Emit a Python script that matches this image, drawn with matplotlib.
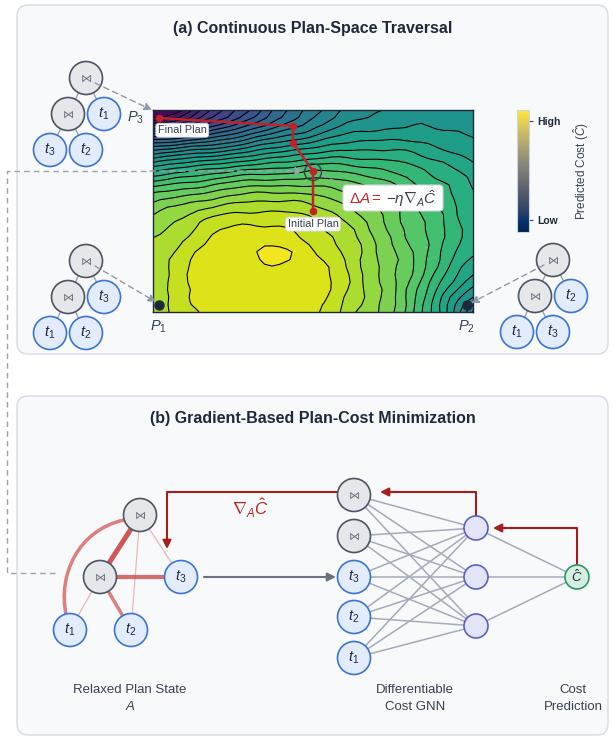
import numpy as np
import matplotlib
matplotlib.use("Agg")
import matplotlib.pyplot as plt
from matplotlib.patches import FancyBboxPatch, Circle, PathPatch
from matplotlib.path import Path
from matplotlib.cm import ScalarMappable
from matplotlib.colors import Normalize

plt.rcParams['font.family'] = ['Liberation Sans', 'DejaVu Sans']
plt.rcParams['mathtext.fontset'] = 'custom'
plt.rcParams['mathtext.rm'] = 'Liberation Sans'
plt.rcParams['mathtext.it'] = 'Liberation Sans:italic'
plt.rcParams['mathtext.bf'] = 'Liberation Sans:bold'
plt.rcParams['mathtext.fallback'] = 'cm'

# ---------------------------------------------------------------- data
# candidate join trees: inner join (left, right) and the outer leaf
plan_names = ["P_3", "P_1", "P_2"]
plan_inner = [("t_3", "t_2"), ("t_1", "t_2"), ("t_1", "t_3")]
plan_outer = ["t_1", "t_3", "t_2"]
# where the discrete plans sit on the cost surface (axes units)
plan_pts_x = [0.02, 0.02, 0.98]
plan_pts_y = [0.96, 0.035, 0.035]

# gradient-descent trajectory, initial -> final (axes units)
traj_x = [0.50, 0.50, 0.4375, 0.4375, 0.02]
traj_y = [0.50, 0.698, 0.837, 0.921, 0.96]

# predicted-cost surface parameters
mesa_center = (0.33, 0.15)
mesa_scale = (0.22, 0.29)
mesa_top, mesa_radius, mesa_slope, mesa_sat = 0.949, 0.83, 0.119, 2.5
bump_center = (0.375, 0.28)
bump_width = (0.06, 0.05)
bump_height = 0.03
tl_depth, tl_scale, tl_power = 0.80, (1.5, 0.60), 2.2
edge_depth, edge_start = 0.11, 0.55
br_depth, br_scale = 0.20, (0.30, 0.40)
ripple = (0.006, 0.004)
n_levels = 29

cbar_ticks = [0.91, 0.10]
cbar_ticklabels = ["High", "Low"]

# relaxed plan state: soft adjacency between nodes
relax_edges = [("J1", "J2"), ("J2", "T3"), ("J2", "T2"), ("J1", "T1"),
               ("J1", "T3"), ("J1", "T2"), ("J2", "T1")]
relax_weights = [0.95, 0.75, 0.60, 0.60, 0.10, 0.10, 0.10]

gnn_inputs = ["join", "join", "t_3", "t_2", "t_1"]
gnn_hidden = 3

# ---------------------------------------------------------------- style
C_JOIN_FC, C_JOIN_EC = "#e5e7eb", "#4b5563"
C_TAB_FC, C_TAB_EC = "#e3ecfd", "#3b74d8"
C_HID_FC, C_HID_EC = "#e4e4fb", "#5b5fc7"
C_OUT_FC, C_OUT_EC = "#d5f0e2", "#2e9467"
C_TEXT = "#1f2937"
C_GRAY = "#8d98aa"
C_RED = "#a51d1d"
C_RELAX = "#d04848"

W, H = 613, 738
fig = plt.figure(figsize=(W / 100, H / 100), dpi=100)
fig.patch.set_facecolor("white")

ax = fig.add_axes([0, 0, 1, 1])
ax.set_xlim(0, W)
ax.set_ylim(H, 0)
ax.axis("off")

ov = fig.add_axes([0, 0, 1, 1], zorder=5)
ov.set_xlim(0, W)
ov.set_ylim(H, 0)
ov.axis("off")
ov.patch.set_alpha(0)

# panels
for y0, h in [(5, 349), (396, 339)]:
    ax.add_patch(FancyBboxPatch((17, y0), 591, h,
                                boxstyle="round,pad=0,rounding_size=11",
                                fc="#f8f9fb", ec="#d7dbe2", lw=1.0, zorder=0))
ax.text(313, 28, "(a) Continuous Plan-Space Traversal", ha="center", va="center",
        fontsize=11.5, fontweight="bold", color="#1e293b")
ax.text(313, 418, "(b) Gradient-Based Plan-Cost Minimization", ha="center", va="center",
        fontsize=11.5, fontweight="bold", color="#1e293b")


def node(a, x, y, r, kind, label=None, z=3):
    if kind == "join":
        fc, ec = C_JOIN_FC, C_JOIN_EC
    elif kind == "tab":
        fc, ec = C_TAB_FC, C_TAB_EC
    elif kind == "hid":
        fc, ec = C_HID_FC, C_HID_EC
    else:
        fc, ec = C_OUT_FC, C_OUT_EC
    a.add_patch(Circle((x, y), r, fc=fc, ec=ec, lw=1.2, zorder=z))
    if kind == "join":
        a.text(x, y + 0.5, "\u22c8", ha="center", va="center", fontsize=8,
               color="#6b7280", family="DejaVu Sans", zorder=z + 1)
    elif label is not None:
        a.text(x, y, f"${label}$", ha="center", va="center", fontsize=10.5,
               color=C_TEXT, zorder=z + 1)


def arrow(a, p0, p1, color, lw=1.0, ls="-", hw=0.22, hl=0.45, z=4):
    a.annotate("", xy=p1, xytext=p0, zorder=z,
               arrowprops=dict(arrowstyle=f"-|>,head_length={hl},head_width={hw}",
                               color=color, lw=lw, linestyle=ls,
                               shrinkA=0, shrinkB=0))


# ---------------------------------------------------------------- trees (a)
tree_roots = [(86, 78), (86, 261), (553, 260)]
tree_targets = [(152, 110), (156, 302), (471, 303)]
R = 16.5
for (rx, ry), inner, outer, tgt in zip(tree_roots, plan_inner, plan_outer, tree_targets):
    jx, jy = rx - 18, ry + 36
    ox, oy = rx + 18, ry + 36
    l1 = (rx - 36, ry + 72)
    l2 = (rx, ry + 72)
    for (x0, y0), (x1, y1) in [((rx, ry), (jx, jy)), ((rx, ry), (ox, oy)),
                               ((jx, jy), l1), ((jx, jy), l2)]:
        ax.plot([x0, x1], [y0, y1], color="#9aa3b0", lw=1.0, zorder=1)
    node(ax, rx, ry, R, "join")
    node(ax, jx, jy, R, "join")
    node(ax, ox, oy, R, "tab", outer)
    node(ax, *l1, R, "tab", inner[0])
    node(ax, *l2, R, "tab", inner[1])
    sx = rx + 9 if tgt[0] > rx else rx - 9
    arrow(ov, (sx, ry + 5), tgt, C_GRAY, lw=1.0, ls=(0, (4, 3)))

# plan labels
ov.text(136, 118, "$P_3$", ha="center", va="center", fontsize=10.5, color="#334155")
ov.text(158, 327, "$P_1$", ha="center", va="center", fontsize=10.5, color="#334155")
ov.text(466, 327, "$P_2$", ha="center", va="center", fontsize=10.5, color="#334155")

# ---------------------------------------------------------------- cost surface
cax = fig.add_axes([153 / W, 1 - 312 / H, 320 / W, 202 / H], zorder=3)
gx = np.linspace(0, 1, 44)
gy = np.linspace(0, 1, 28)
X, Y = np.meshgrid(gx, gy)

# plateau-topped cone around the high-cost region
r = np.sqrt(((X - mesa_center[0]) / mesa_scale[0]) ** 2 +
            ((Y - mesa_center[1]) / mesa_scale[1]) ** 2)
u = 0.05 * np.log1p(np.exp((r - mesa_radius) / 0.05))
Z = mesa_top - mesa_slope * mesa_sat * np.tanh(u / mesa_sat)
b2 = ((X - bump_center[0]) / bump_width[0]) ** 2 + ((Y - bump_center[1]) / bump_width[1]) ** 2
Z += bump_height * np.exp(-b2)
# cheap corner (top-left), falling edge on the right, bottom-right pocket
d_tl = np.sqrt((X / tl_scale[0]) ** 2 + ((1 - Y) / tl_scale[1]) ** 2)
Z -= tl_depth * np.clip(1 - d_tl, 0, None) ** tl_power
Z -= edge_depth * np.clip((X - edge_start) / (1 - edge_start), 0, None) ** 1.5
d_br = np.sqrt(((1 - X) / br_scale[0]) ** 2 + (Y / br_scale[1]) ** 2)
Z -= br_depth * np.clip(1 - d_br, 0, None) ** 2
# small irregularities of a learned model
Z += ripple[0] * np.sin(23 * X + 7 * Y) * np.cos(17 * Y - 5 * X)
Z += ripple[1] * np.sin(47 * X - 13 * Y) * np.cos(37 * Y + 11 * X)
Z = np.clip(Z, 0.001, 0.999)

levels = np.linspace(0, 1, n_levels)
cax.contourf(X, Y, Z, levels=levels, cmap="viridis", vmin=0, vmax=1)
cax.contour(X, Y, Z, levels=levels, colors="black", linewidths=0.8)
cax.set_xlim(0, 1)
cax.set_ylim(0, 1)
cax.set_xticks([])
cax.set_yticks([])
for s in cax.spines.values():
    s.set_color("#1f2937")
    s.set_linewidth(1.0)

cax.plot(traj_x, traj_y, color="#c0212a", lw=1.8, zorder=5,
         marker="o", ms=4.5, mfc="#c0212a", mec="#c0212a")
cax.plot(plan_pts_x[1:], plan_pts_y[1:], "o", color="#1e293b", ms=6.5, zorder=6)
box = dict(boxstyle="round,pad=0.18,rounding_size=0.25", fc="white", ec="#d1d5db", lw=0.6)
cax.text(0.015, 0.90, "Final Plan", ha="left", va="center", fontsize=7.8,
         color="#374151", bbox=box, zorder=7)
cax.text(0.5, 0.435, "Initial Plan", ha="center", va="center", fontsize=7.8,
         color="#374151", bbox=box, zorder=7)

# ---------------------------------------------------------------- colorbar
cb_ax = fig.add_axes([517 / W, 1 - 232 / H, 12 / W, 122 / H], zorder=3)
cb = fig.colorbar(ScalarMappable(norm=Normalize(0, 1), cmap="cividis"), cax=cb_ax)
cb.set_ticks(cbar_ticks)
cb.set_ticklabels(cbar_ticklabels)
cb.outline.set_edgecolor("#cbd5e1")
cb.outline.set_linewidth(0.8)
cb_ax.tick_params(length=3, width=0.8, color="#374151", labelsize=7.5, pad=3)
for t in cb_ax.get_yticklabels():
    t.set_fontweight("bold")
    t.set_color(C_TEXT)
cb.set_label(r"Predicted Cost ($\hat{C}$)", fontsize=8.5, color="#374151", labelpad=8)

# ---------------------------------------------------------------- connectors / annotation
ov.plot([55, 7, 7, 150], [573, 573, 171, 171], color="#9ca3af", lw=1.0,
        ls=(0, (4, 3)), zorder=2)
arrow(ov, (150, 171), (303, 171), "#9ca3af", lw=1.0, ls=(0, (4, 3)))
ov.add_patch(Circle((313, 172), 8.5, fill=False, ec="#374151", lw=1.0, zorder=6))
ov.plot([321, 346], [175, 186], color="#9ca3af", lw=1.0, ls=(0, (4, 3)), zorder=5)
ov.add_patch(FancyBboxPatch((343, 185), 100, 26, boxstyle="round,pad=0,rounding_size=4",
                            fc="white", ec="#d1d5db", lw=0.8, zorder=6))
ov.text(349, 199, r"$\Delta A =$", ha="left", va="center", fontsize=11,
        color="#c62828", zorder=7)
ov.text(386, 199, r"$-\eta\nabla_A\hat{C}$", ha="left", va="center", fontsize=11,
        color="#374151", zorder=7)

# ---------------------------------------------------------------- relaxed plan (b)
pos = {"J1": (140, 515), "J2": (100, 577), "T3": (181, 577),
       "T1": (70, 630), "T2": (131, 630)}
for (a_, b_), w in zip(relax_edges, relax_weights):
    lw = 0.6 + 3.2 * w
    alpha = 0.3 + 0.65 * w
    (x0, y0), (x1, y1) = pos[a_], pos[b_]
    if (a_, b_) == ("J1", "T1"):
        verts = [(124, 520), (78, 530), (58, 575), (66, 614)]
        p = Path(verts, [Path.MOVETO, Path.CURVE4, Path.CURVE4, Path.CURVE4])
        ax.add_patch(PathPatch(p, fill=False, ec=C_RELAX, lw=lw, alpha=alpha,
                               capstyle="round", zorder=1))
    else:
        ax.plot([x0, x1], [y0, y1], color=C_RELAX, lw=lw, alpha=alpha,
                solid_capstyle="round", zorder=1)
node(ax, *pos["J1"], R, "join")
node(ax, *pos["J2"], R, "join")
node(ax, *pos["T3"], R, "tab", "t_3")
node(ax, *pos["T1"], R, "tab", "t_1")
node(ax, *pos["T2"], R, "tab", "t_2")

arrow(ax, (204, 577), (336, 577), "#6b7280", lw=1.5, hw=0.25, hl=0.5)

# ---------------------------------------------------------------- GNN
in_x, hid_x, out_x = 354, 476, 577
in_y = [495, 536, 577, 617, 658]
hid_y = [528, 577, 626]
out_y = 577
for iy in in_y:
    for hy in hid_y:
        ax.plot([in_x, hid_x], [iy, hy], color="#a3abba", lw=1.1, zorder=1)
for hy in hid_y:
    ax.plot([hid_x, out_x], [hy, out_y], color="#a3abba", lw=1.1, zorder=1)
for iy, lab in zip(in_y, gnn_inputs):
    if lab == "join":
        node(ax, in_x, iy, R, "join")
    else:
        node(ax, in_x, iy, R, "tab", lab)
for hy in hid_y[:gnn_hidden]:
    node(ax, hid_x, hy, 12, "hid")
node(ax, out_x, out_y, 12, "out")
ax.text(out_x, out_y, r"$\hat{C}$", ha="center", va="center", fontsize=9.5,
        color=C_TEXT, zorder=5)

# backward gradient path
ax.plot([577, 577, 500], [565, 528, 528], color=C_RED, lw=1.5, zorder=2)
arrow(ax, (505, 528), (493, 528), C_RED, lw=1.5, hw=0.25, hl=0.5)
ax.plot([476, 476, 390], [516, 492, 492], color=C_RED, lw=1.5, zorder=2)
arrow(ax, (395, 492), (380, 492), C_RED, lw=1.5, hw=0.25, hl=0.5)
ax.plot([337, 167, 167], [492, 492, 540], color=C_RED, lw=1.5, zorder=2)
arrow(ax, (167, 535), (167, 549), C_RED, lw=1.5, hw=0.25, hl=0.5)
ax.text(250, 508, r"$\nabla_A\hat{C}$", ha="center", va="center", fontsize=12,
        color="#b42323")

# captions
cap = dict(ha="center", va="center", fontsize=9.5, color="#374151")
ax.text(130, 690, "Relaxed Plan State", **cap)
ax.text(130, 707, "$A$", **cap)
ax.text(415, 690, "Differentiable", **cap)
ax.text(415, 707, "Cost GNN", **cap)
ax.text(573, 690, "Cost", **cap)
ax.text(573, 707, "Prediction", **cap)

fig.savefig("out.png", dpi=100, facecolor="white")
